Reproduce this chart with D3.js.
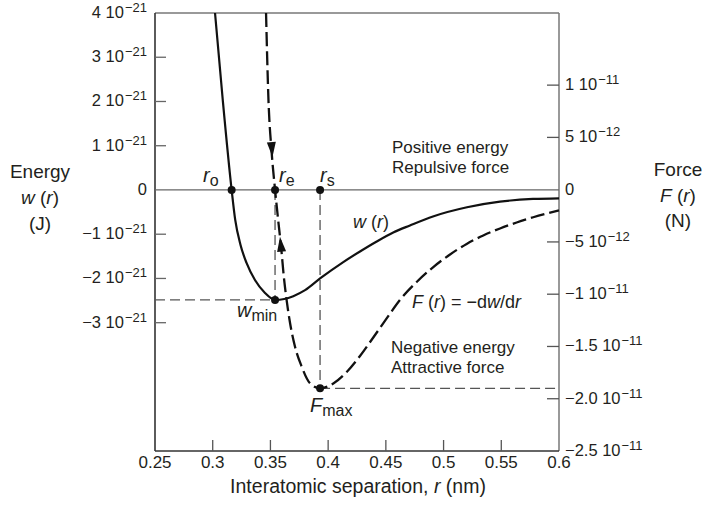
<!DOCTYPE html>
<html>
<head>
<meta charset="utf-8">
<script src="https://cdn.jsdelivr.net/npm/d3@7"></script>
<style>
  html, body { margin: 0; padding: 0; background: #fff; }
  svg { display: block; font-family: "Liberation Sans", Arial, sans-serif; }
  text { fill: #231f20; }
</style>
</head>
<body>
<svg id="chart" width="706" height="507"></svg>
<script>
// r in nm, w in units of 1e-21 J, F in units of 1e-11 N
const wR = [0.3020, 0.3087, 0.3164, 0.3195, 0.3241, 0.3293, 0.3366, 0.3453, 0.3540, 0.3620, 0.3698, 0.3800, 0.3930,
            0.4131, 0.4276, 0.4421, 0.4564, 0.4709, 0.4908, 0.5203, 0.5489, 0.5775, 0.6000];
const wVal = [4.0, 2.034, 0.0, -0.678, -1.243, -1.650, -2.035, -2.328, -2.486, -2.465, -2.400, -2.265, -2.000,
              -1.630, -1.390, -1.164, -0.961, -0.802, -0.599, -0.391, -0.264, -0.203, -0.188];

const fR = [0.3462, 0.3483, 0.3509, 0.3540, 0.3567, 0.3592, 0.3619, 0.3640, 0.3670, 0.3713, 0.3771, 0.3843,
            0.3930, 0.4045, 0.4161, 0.4276, 0.4391, 0.4507, 0.4622, 0.4767, 0.4911, 0.5056, 0.5200, 0.5344,
            0.5489, 0.5633, 0.5777, 0.6000];
const fVal = [1.690, 0.858, 0.380, 0.0, -0.290, -0.545, -0.864, -1.055, -1.275, -1.502, -1.693, -1.852,
              -1.900, -1.854, -1.744, -1.591, -1.414, -1.232, -1.055, -0.883, -0.740, -0.620, -0.519, -0.438,
              -0.371, -0.314, -0.264, -0.199];

const xTicks = [0.25, 0.3, 0.35, 0.4, 0.45, 0.5, 0.55, 0.6];
const xTickLabels = ["0.25", "0.3", "0.35", "0.4", "0.45", "0.5", "0.55", "0.6"];

const wTicks = [4, 3, 2, 1, 0, -1, -2, -3];
const wTickLabels = [["4 10", "−21"], ["3 10", "−21"], ["2 10", "−21"], ["1 10", "−21"], ["0", ""], ["−1 10", "−21"], ["−2 10", "−21"], ["−3 10", "−21"]];

const fTicks = [1, 0.5, 0, -0.5, -1, -1.5, -2, -2.5];
const fTickLabels = [["1 10", "−11"], ["5 10", "−12"], ["0", ""], ["−5 10", "−12"], ["−1 10", "−11"], ["−1.5 10", "−11"], ["−2.0 10", "−11"], ["−2.5 10", "−11"]];

// special points
const r0 = 0.3164, rE = 0.354, rS = 0.393;
const wMin = -2.486, fMax = -1.900;

// arrow tips on the force curve, each pointing toward the point at index `toward`
const arrows = [
  { r: 0.3518, f: 0.312, toward: 3 },   // pointing down
  { r: 0.3583, f: -0.450, toward: 3 }   // pointing up
];

const svg = d3.select("#chart");
const L = 155, R = 559, T = 13, B = 451;

const x = d3.scaleLinear().domain([0.25, 0.6]).range([L, R]);
const yW = d3.scaleLinear().domain([-5.9, 4]).range([B, T]);
const yF = d3.scaleLinear().domain([-2.5, 1.69]).range([B, T]);

// frame
svg.append("line").attr("x1", L).attr("x2", R).attr("y1", T).attr("y2", T)
  .attr("stroke", "#777").attr("stroke-width", 1.5);
svg.append("line").attr("x1", R).attr("x2", R).attr("y1", T).attr("y2", B)
  .attr("stroke", "#777").attr("stroke-width", 1.5);
svg.append("line").attr("x1", L).attr("x2", L).attr("y1", T).attr("y2", B)
  .attr("stroke", "#333").attr("stroke-width", 1.6);
svg.append("line").attr("x1", L).attr("x2", R).attr("y1", B).attr("y2", B)
  .attr("stroke", "#333").attr("stroke-width", 1.6);

// zero line
svg.append("line").attr("x1", L).attr("x2", R).attr("y1", yW(0)).attr("y2", yW(0))
  .attr("stroke", "#666").attr("stroke-width", 1.3);

// bottom ticks
const xt = svg.append("g");
xTicks.forEach((t, i) => {
  if (i > 0 && i < xTicks.length - 1) {
    xt.append("line").attr("x1", x(t)).attr("x2", x(t)).attr("y1", B).attr("y2", B - 11)
      .attr("stroke", "#555").attr("stroke-width", 1.3);
  }
  xt.append("text").attr("x", x(t)).attr("y", B + 17).attr("text-anchor", "middle")
    .attr("font-size", 17).text(xTickLabels[i]);
});

// left ticks
wTicks.forEach((t, i) => {
  if (t !== 0 && t !== 4) {
    svg.append("line").attr("x1", L).attr("x2", L + 11).attr("y1", yW(t)).attr("y2", yW(t))
      .attr("stroke", "#666").attr("stroke-width", 1.3);
  }
  const tx = svg.append("text").attr("x", 147).attr("y", yW(t) + 5)
    .attr("text-anchor", "end").attr("font-size", 16.5);
  tx.append("tspan").text(wTickLabels[i][0]);
  if (wTickLabels[i][1]) {
    tx.append("tspan").attr("dy", -6).attr("font-size", 13).attr("dx", 1).text(wTickLabels[i][1]);
  }
});

// right ticks
fTicks.forEach((t, i) => {
  if (t !== 0 && t !== -2.5) {
    svg.append("line").attr("x1", R - 12).attr("x2", R).attr("y1", yF(t)).attr("y2", yF(t))
      .attr("stroke", "#555").attr("stroke-width", 1.3);
  }
  const tx = svg.append("text").attr("x", 565).attr("y", yF(t) + 5)
    .attr("font-size", 16.5);
  tx.append("tspan").text(fTickLabels[i][0]);
  if (fTickLabels[i][1]) {
    tx.append("tspan").attr("dy", -6).attr("font-size", 13).attr("dx", 1).text(fTickLabels[i][1]);
  }
});

// guide lines (thin dashed)
const guide = svg.append("g").attr("stroke", "#555").attr("stroke-width", 1.3)
  .attr("stroke-dasharray", "10,5").attr("fill", "none");
guide.append("line").attr("x1", L).attr("x2", x(rE)).attr("y1", yW(wMin)).attr("y2", yW(wMin));
guide.append("line").attr("x1", x(rE)).attr("x2", x(rE)).attr("y1", yW(0)).attr("y2", yW(wMin));
guide.append("line").attr("x1", x(rS)).attr("x2", x(rS)).attr("y1", yW(0)).attr("y2", yF(fMax));
guide.append("line").attr("x1", x(rS)).attr("x2", R).attr("y1", yF(fMax)).attr("y2", yF(fMax));

// curves
const wData = wR.map((r, i) => [r, wVal[i]]);
const fData = fR.map((r, i) => [r, fVal[i]]);

const wLine = d3.line().x(d => x(d[0])).y(d => yW(d[1])).curve(d3.curveMonotoneX);
const fLine = d3.line().x(d => x(d[0])).y(d => yF(d[1])).curve(d3.curveMonotoneX);

svg.append("path").attr("d", wLine(wData)).attr("fill", "none")
  .attr("stroke", "#111").attr("stroke-width", 2.2);
svg.append("path").attr("d", fLine(fData)).attr("fill", "none")
  .attr("stroke", "#111").attr("stroke-width", 2.3).attr("stroke-dasharray", "14,5");

// arrowheads
arrows.forEach(a => {
  const tx = x(a.r), ty = yF(a.f);
  const nx = x(fR[a.toward]), ny = yF(fVal[a.toward]);
  const ang = Math.atan2(ny - ty, nx - tx) * 180 / Math.PI;
  svg.append("path").attr("d", "M0,0 L-15,-4.5 L-15,4.5 Z")
    .attr("fill", "#111")
    .attr("transform", `translate(${tx},${ty}) rotate(${ang})`);
});

// dots
const dots = [[x(r0), yW(0)], [x(rE), yW(0)], [x(rS), yW(0)], [x(rE), yW(wMin)], [x(rS), yF(fMax)]];
svg.selectAll("circle.pt").data(dots).enter().append("circle")
  .attr("cx", d => d[0]).attr("cy", d => d[1]).attr("r", 4).attr("fill", "#111");

// point labels
function subLabel(px, py, main, sub, size, subSize) {
  const t = svg.append("text").attr("x", px).attr("y", py).attr("font-size", size);
  t.append("tspan").attr("font-style", "italic").text(main);
  t.append("tspan").attr("font-size", subSize).attr("dy", 4).text(sub);
}
subLabel(203, 182, "r", "o", 20, 16);
subLabel(279, 182, "r", "e", 20, 16);
subLabel(320, 182, "r", "s", 20, 16);
subLabel(237, 317, "w", "min", 20, 16);
subLabel(310, 412, "F", "max", 20, 16);

// w(r) label
const wl = svg.append("text").attr("x", 353).attr("y", 228).attr("font-size", 18);
wl.append("tspan").attr("font-style", "italic").text("w");
wl.append("tspan").text(" (");
wl.append("tspan").attr("font-style", "italic").text("r");
wl.append("tspan").text(")");

// F(r) label
const fl = svg.append("text").attr("x", 412).attr("y", 308).attr("font-size", 18);
fl.append("tspan").attr("font-style", "italic").text("F");
fl.append("tspan").text(" (");
fl.append("tspan").attr("font-style", "italic").text("r");
fl.append("tspan").text(") = −d");
fl.append("tspan").attr("font-style", "italic").text("w");
fl.append("tspan").text("/d");
fl.append("tspan").attr("font-style", "italic").text("r");

// region notes
[["Positive energy", 392, 153], ["Repulsive force", 392, 173],
 ["Negative energy", 391, 353], ["Attractive force", 391, 373]].forEach(d => {
  svg.append("text").attr("x", d[1]).attr("y", d[2]).attr("font-size", 17).text(d[0]);
});

// axis titles
svg.append("text").attr("x", 40).attr("y", 178).attr("text-anchor", "middle").attr("font-size", 19).text("Energy");
const wt = svg.append("text").attr("x", 40).attr("y", 204).attr("text-anchor", "middle").attr("font-size", 19);
wt.append("tspan").attr("font-style", "italic").text("w");
wt.append("tspan").text(" (");
wt.append("tspan").attr("font-style", "italic").text("r");
wt.append("tspan").text(")");
svg.append("text").attr("x", 40).attr("y", 230).attr("text-anchor", "middle").attr("font-size", 19).text("(J)");

svg.append("text").attr("x", 678).attr("y", 176).attr("text-anchor", "middle").attr("font-size", 19).text("Force");
const ft = svg.append("text").attr("x", 678).attr("y", 202).attr("text-anchor", "middle").attr("font-size", 19);
ft.append("tspan").attr("font-style", "italic").text("F");
ft.append("tspan").text(" (");
ft.append("tspan").attr("font-style", "italic").text("r");
ft.append("tspan").text(")");
svg.append("text").attr("x", 678).attr("y", 227).attr("text-anchor", "middle").attr("font-size", 19).text("(N)");

const xtl = svg.append("text").attr("x", 358).attr("y", 493).attr("text-anchor", "middle").attr("font-size", 19.5);
xtl.append("tspan").text("Interatomic separation, ");
xtl.append("tspan").attr("font-style", "italic").text("r");
xtl.append("tspan").text(" (nm)");
</script>
</body>
</html>
